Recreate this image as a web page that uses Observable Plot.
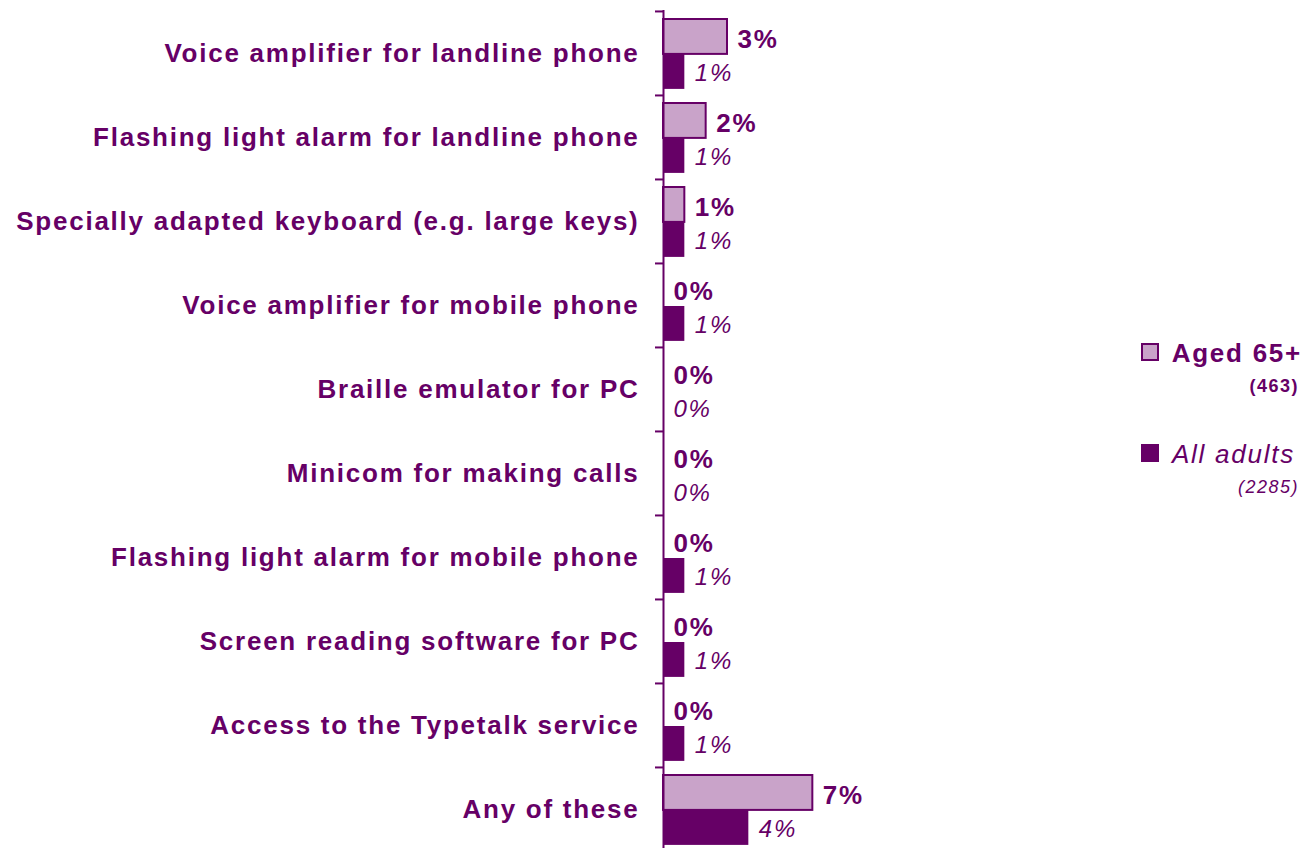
<!DOCTYPE html>
<html>
<head>
<meta charset="utf-8">
<script src="https://cdn.jsdelivr.net/npm/d3@7"></script>
<script src="https://cdn.jsdelivr.net/npm/@observablehq/plot@0.6"></script>
<style>
  html, body { margin: 0; padding: 0; background: #fff; overflow: hidden; }
  #wrap { position: relative; width: 1303px; height: 848px; font-family: "Liberation Sans", Arial, sans-serif; color: #660066; }
  .leg { position: absolute; text-align: right; white-space: nowrap; }
  .sw { position: absolute; width: 18px; height: 18px; box-sizing: border-box; }
</style>
</head>
<body>
<div id="wrap">
  <div id="chart"></div>
  <div class="sw" style="left:1141px; top:343px; background:#c9a3c9; border:2px solid #660066;"></div>
  <div class="leg" style="top:340px; right:1px; font-size:26px; line-height:26px; font-weight:bold; letter-spacing:1.75px;">Aged 65+</div>
  <div class="leg" style="top:377px; right:4px; font-size:18px; line-height:18px; font-weight:bold; letter-spacing:1.5px;">(463)</div>
  <div class="sw" style="left:1141px; top:444px; background:#660066;"></div>
  <div class="leg" style="top:441px; right:8px; font-size:26px; line-height:26px; font-style:italic; letter-spacing:1.75px;">All adults</div>
  <div class="leg" style="top:478px; right:4px; font-size:18px; line-height:18px; font-style:italic; letter-spacing:1.5px;">(2285)</div>
</div>
<script>
const categories = [
  "Voice amplifier for landline phone",
  "Flashing light alarm for landline phone",
  "Specially adapted keyboard (e.g. large keys)",
  "Voice amplifier for mobile phone",
  "Braille emulator for PC",
  "Minicom for making calls",
  "Flashing light alarm for mobile phone",
  "Screen reading software for PC",
  "Access to the Typetalk service",
  "Any of these"
];
const aged65 = [3, 2, 1, 0, 0, 0, 0, 0, 0, 7];
const allAdults = [1, 1, 1, 1, 0, 0, 1, 1, 1, 4];

const dataAged = categories.map((c, i) => ({category: c, value: aged65[i]}));
const dataAll = categories.map((c, i) => ({category: c, value: allAdults[i]}));

const purple = "#660066";
const light = "#c9a3c9";
const W = 1303, H = 848, mTop = 10, mBottom = -3;
const step = (H - mBottom - mTop) / categories.length;

const plot = Plot.plot({
  width: W,
  height: H,
  marginLeft: 663,
  marginRight: 0,
  marginTop: mTop,
  marginBottom: mBottom,
  style: "font-family: 'Liberation Sans', Arial, sans-serif; color: #660066; letter-spacing: 1.75px; overflow: visible; background: #fff;",
  x: {domain: [0, 30], axis: null},
  y: {domain: categories, padding: 0, label: null},
  marks: [
    Plot.barX(dataAged, {y: "category", x: "value", fill: light, stroke: purple, strokeWidth: 2, insetTop: 8, insetBottom: step - 43}),
    Plot.barX(dataAll, {y: "category", x: "value", fill: purple, insetTop: 43, insetBottom: step - 78}),
    Plot.ruleX([0], {stroke: purple, strokeWidth: 2}),
    Plot.axisY({tickSize: 8, tickFormat: () => "", stroke: purple, strokeWidth: 2, dy: -step / 2, label: null}),
    Plot.axisY({tickSize: 0, tickPadding: 24, fontSize: 26, fontWeight: "bold", fill: purple, label: null}),
    Plot.text(dataAged, {y: "category", x: "value", text: d => d.value + "%", dx: 10, dy: -14, textAnchor: "start", fontSize: 26, fontWeight: "bold", fill: purple}),
    Plot.text(dataAll, {y: "category", x: "value", text: d => d.value + "%", dx: 10, dy: 20, textAnchor: "start", fontSize: 24, fontStyle: "italic", fill: purple})
  ]
});
document.getElementById("chart").appendChild(plot);
</script>
</body>
</html>
